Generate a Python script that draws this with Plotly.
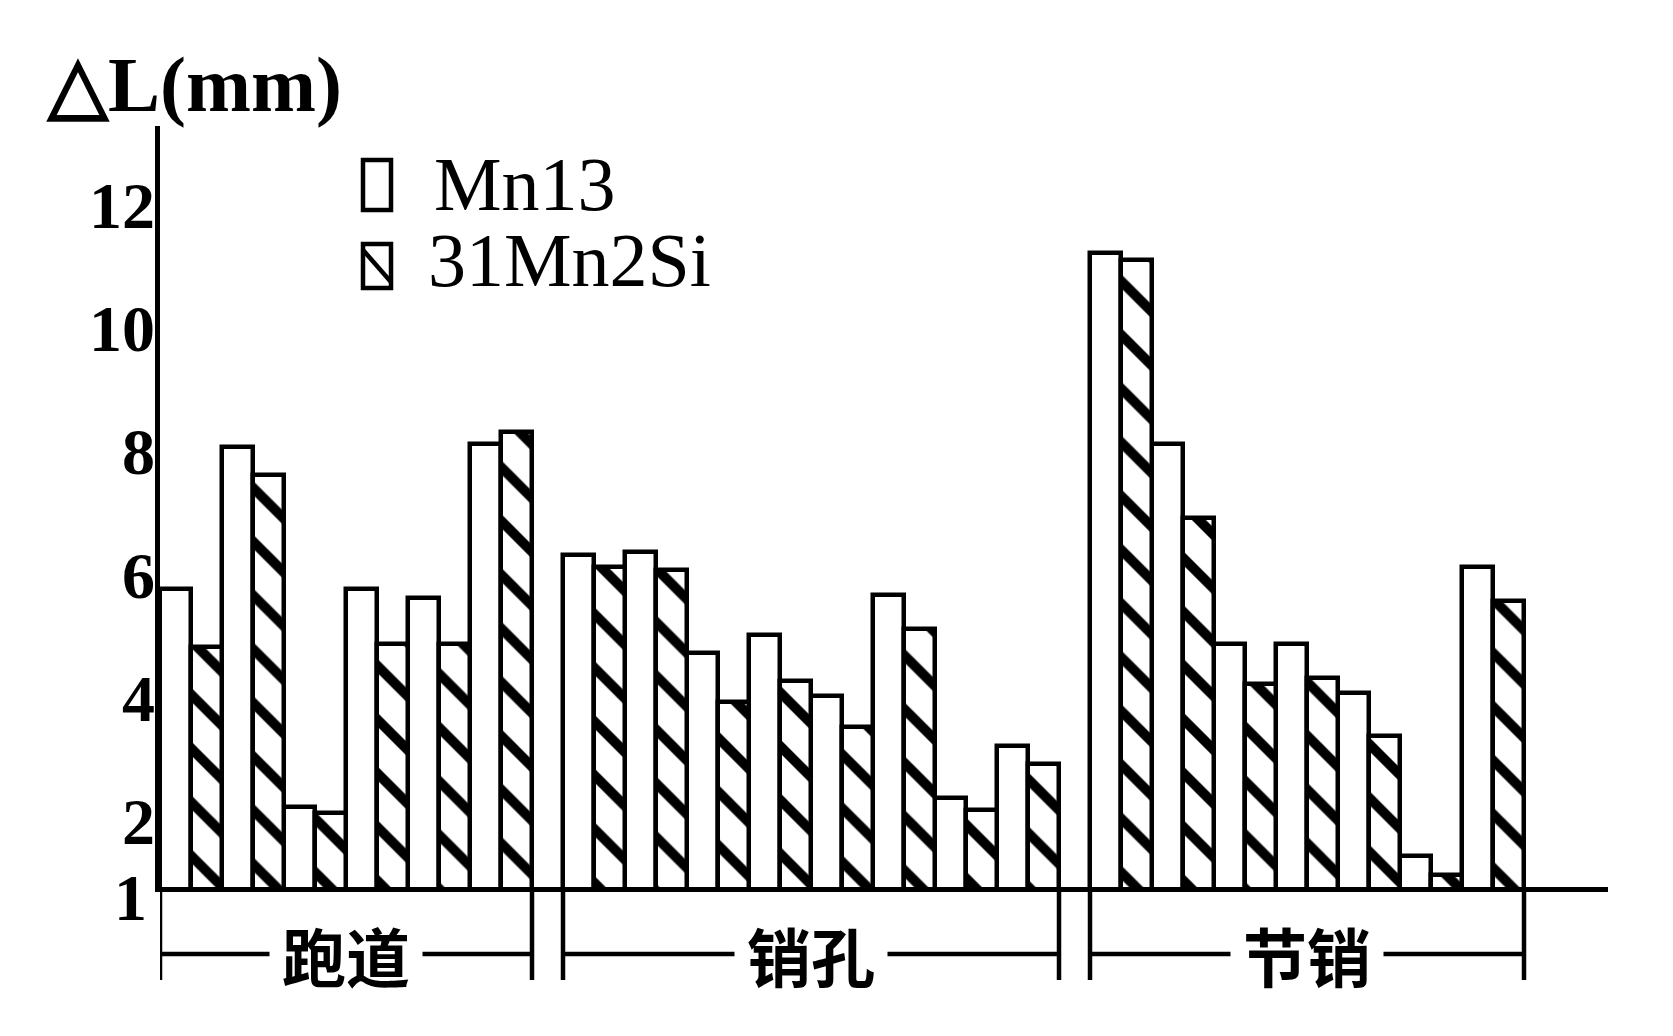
import plotly.graph_objects as go

# ---------------- data ----------------
groups = ["跑道", "销孔", "节销"]
series_names = ["Mn13", "31Mn2Si"]

mn13_paodao = [5.85, 8.15, 2.3, 5.85, 5.7, 8.2]
si_paodao = [4.9, 7.7, 2.2, 4.95, 4.95, 8.4]

mn13_xiaokong = [6.4, 6.45, 4.8, 5.1, 4.1, 5.75, 2.45, 3.3]
si_xiaokong = [6.2, 6.15, 4.0, 4.35, 3.6, 5.2, 2.25, 3.0]

mn13_jiexiao = [11.3, 8.2, 4.95, 4.95, 4.15, 1.5, 6.2]
si_jiexiao = [11.2, 7.0, 4.3, 4.4, 3.45, 1.2, 5.65]

y_tickvals = [2, 4, 6, 8, 10, 12]
y_base_tick = [1]
y_title = "△L(mm)"

mn13_all = [mn13_paodao, mn13_xiaokong, mn13_jiexiao]
si_all = [si_paodao, si_xiaokong, si_jiexiao]

# ---------------- layout geometry ----------------
W, H = 1673, 1036
ML, MR, MT, MB = 152, 73, 118, 157
PW = W - ML - MR
PH = H - MT - MB
Y_RANGE = [1, 13.37]


def px(x):
    return (x - ML) / PW


def py(y):
    return (H - MB - y) / PH


# slot positions: each bar takes one slot, one empty slot between groups
x_mn, y_mn, x_si, y_si = [], [], [], []
group_edges = []
start = 0
for g, (a, b) in enumerate(zip(mn13_all, si_all)):
    n = len(a)
    for k in range(n):
        x_mn.append(start + 2 * k)
        y_mn.append(a[k])
        x_si.append(start + 2 * k + 1)
        y_si.append(b[k])
    group_edges.append((start - 0.5, start + 2 * n - 0.5))
    start += 2 * n + 1

x_max = group_edges[-1][1] + 84 / 31.0
BLACK = "#000000"
LW = 4.5

fig = go.Figure()
fig.add_trace(go.Bar(
    x=x_mn, y=y_mn, name=series_names[0], width=1,
    marker=dict(color="white", line=dict(color=BLACK, width=LW)),
    showlegend=False,
))
fig.add_trace(go.Bar(
    x=x_si, y=y_si, name=series_names[1], width=1, yaxis="y2",
    marker=dict(color="white", line=dict(color=BLACK, width=LW),
                pattern=dict(shape="\\", size=38, solidity=0.26,
                             fgcolor=BLACK, fgopacity=1, bgcolor="white",
                             fillmode="overlay")),
    showlegend=False,
))

serif = "Liberation Serif, Times New Roman, serif"
cjk = "Noto Sans CJK SC, sans-serif"
TICKFONT = dict(family=serif, size=66, color=BLACK, weight="bold")

fig.update_layout(
    width=W, height=H,
    margin=dict(l=ML, r=MR, t=MT, b=MB, pad=0),
    paper_bgcolor="white", plot_bgcolor="white",
    barmode="overlay",
    bargap=0,
    xaxis=dict(range=[-0.5, x_max], showgrid=False, zeroline=False,
               showticklabels=False, ticks="", showline=True,
               linecolor=BLACK, linewidth=LW),
    yaxis=dict(range=Y_RANGE, showgrid=False, zeroline=False,
               tickmode="array", tickvals=y_tickvals,
               ticktext=[str(v) for v in y_tickvals], ticks="", ticklen=0,
               ticklabelstandoff=-13, ticklabelshift=-5,
               tickfont=TICKFONT,
               showline=True, linecolor=BLACK, linewidth=LW),
    yaxis2=dict(range=Y_RANGE, overlaying="y", side="left", anchor="x",
                showgrid=False, zeroline=False, showline=False,
                tickmode="array", tickvals=y_base_tick,
                ticktext=[str(v) for v in y_base_tick], ticks="", ticklen=0,
                ticklabelstandoff=12, ticklabelshift=10,
                tickfont=TICKFONT),
)

shapes = []
annotations = []

# group brackets below the axis
y_br = py(946)
y_br_bottom = py(972)
for (xl, xr), name in zip(group_edges, groups):
    shapes.append(dict(type="line", xref="x", yref="paper", x0=xl, x1=xl,
                       y0=0, y1=y_br_bottom, line=dict(color=BLACK, width=LW)))
    shapes.append(dict(type="line", xref="x", yref="paper", x0=xr, x1=xr,
                       y0=0, y1=y_br_bottom, line=dict(color=BLACK, width=LW)))
    shapes.append(dict(type="line", xref="x", yref="paper", x0=xl, x1=xr,
                       y0=y_br, y1=y_br, line=dict(color=BLACK, width=LW)))
    annotations.append(dict(x=(xl + xr) / 2, y=y_br, xref="x", yref="paper",
                            text=name, showarrow=False, bgcolor="white",
                            borderpad=12,
                            font=dict(family=cjk, size=64, color=BLACK,
                                      weight="bold"),
                            xanchor="center", yanchor="middle"))

# axis title
annotations.append(dict(x=px(186), y=py(76), xref="paper", yref="paper",
                        text=y_title, showarrow=False,
                        font=dict(family=serif, size=78, color=BLACK,
                                  weight="bold"),
                        xanchor="center", yanchor="middle"))

# custom legend
shapes.append(dict(type="rect", xref="paper", yref="paper",
                   x0=px(355), x1=px(383), y0=py(152), y1=py(202),
                   line=dict(color=BLACK, width=LW), fillcolor="white"))
shapes.append(dict(type="rect", xref="paper", yref="paper",
                   x0=px(355), x1=px(383), y0=py(236), y1=py(280),
                   line=dict(color=BLACK, width=LW), fillcolor="white"))
shapes.append(dict(type="line", xref="paper", yref="paper",
                   x0=px(355), x1=px(383), y0=py(242), y1=py(274),
                   line=dict(color=BLACK, width=LW)))
annotations.append(dict(x=px(424), y=py(176), xref="paper", yref="paper",
                        text=series_names[0], showarrow=False,
                        font=dict(family=serif, size=76, color=BLACK),
                        xanchor="left", yanchor="middle"))
annotations.append(dict(x=px(418), y=py(252), xref="paper", yref="paper",
                        text=series_names[1], showarrow=False,
                        font=dict(family=serif, size=76, color=BLACK),
                        xanchor="left", yanchor="middle"))

fig.update_layout(shapes=shapes, annotations=annotations)

fig.write_html("out.html")
